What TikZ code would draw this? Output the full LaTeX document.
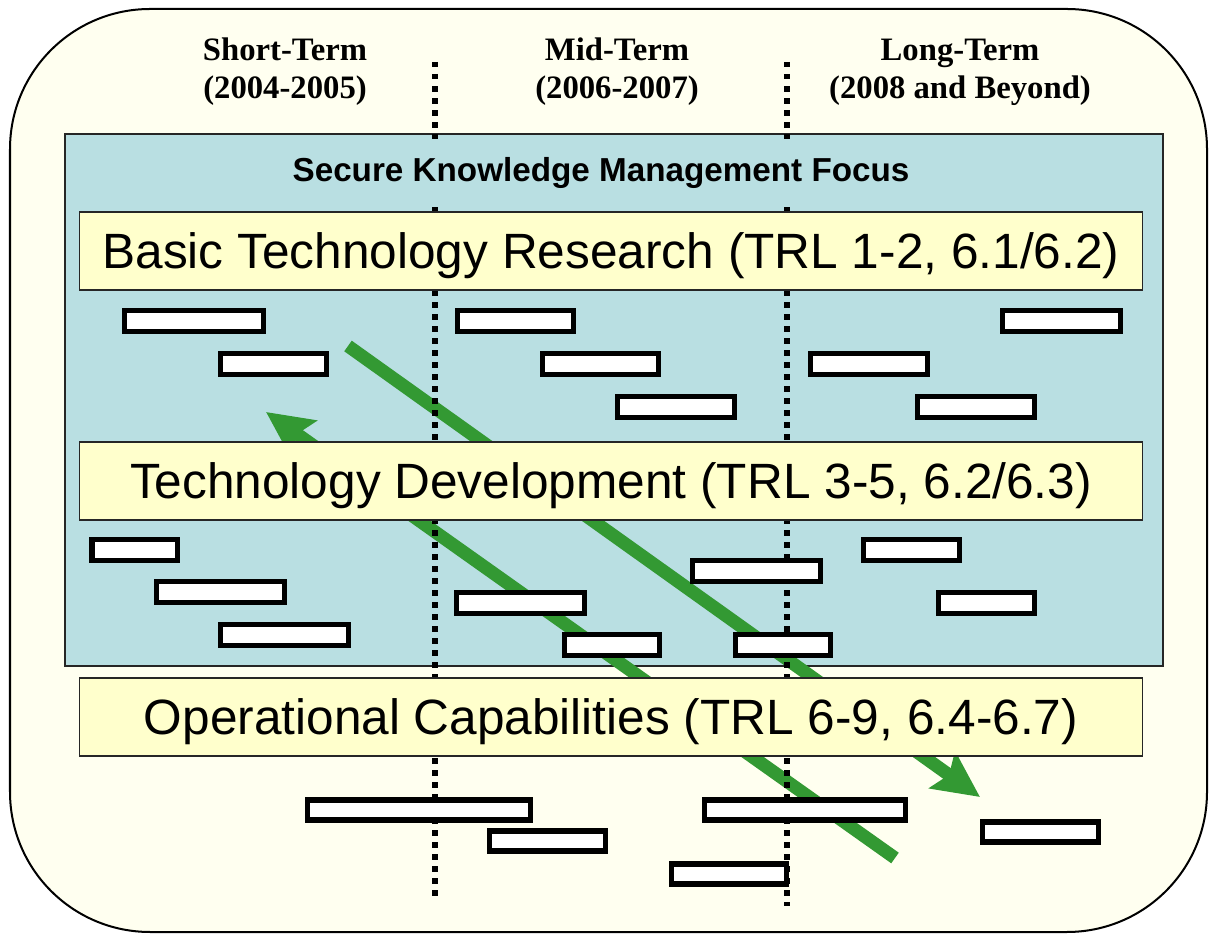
\documentclass[tikz,border=0pt]{standalone}
\usepackage{fontspec}
\setmainfont{Liberation Serif}
\setsansfont{Liberation Sans}
\usetikzlibrary{arrows.meta, calc}
\definecolor{ivorybg}{RGB}{255,255,240}
\definecolor{focusblue}{RGB}{185,223,226}
\definecolor{phaseyellow}{RGB}{255,255,204}
\definecolor{trendgreen}{RGB}{51,153,51}

\begin{document}
\begin{tikzpicture}[x=0.01cm, y=-0.01cm,
        bar/.style={draw=black, fill=white, line width=0.05cm},
        phase/.style={draw=black!85, fill=phaseyellow, line width=0.015cm, minimum width=10.62cm, minimum height=0.78cm, inner sep=0pt, text depth=0pt, font=\sffamily\fontsize{14.1}{16}\selectfont},
        term/.style={align=center, font=\bfseries\fontsize{9.3}{10.8}\selectfont},
        divider/.style={line width=0.055cm, dash pattern=on 0.055cm off 0.065cm},
        trend/.style={trendgreen, line width=0.13cm, -{Stealth[length=0.46cm, width=0.44cm, inset=0.08cm]}}]
        \useasboundingbox (0,0) rectangle (1209,934);
        
        \draw[line width=0.02cm, fill=ivorybg, rounded corners=1.4cm] (10,9) rectangle (1207,932);
        \draw[line width=0.02cm, draw=black!85, fill=focusblue] (65,134) rectangle (1163,666);
        
        \node[term] (short) at (285,72) {Short-Term\\(2004-2005)};
        \node[term] (mid) at (617,72) {Mid-Term\\(2006-2007)};
        \node[term] (long) at (960,72) {Long-Term\\(2008 and Beyond)};
        
        \coordinate (Fwd1) at (348,346);
        \coordinate (Fwd2) at (980,797);
        \coordinate (Back1) at (895,858);
        \coordinate (Back2) at (266,412);
        \draw[trend] (Fwd1) -- (Fwd2);
        \draw[trend] (Back1) -- (Back2);
        
        \coordinate (D1) at (435,62);
        \coordinate (D2) at (435,900);
        \coordinate (D3) at (787,62);
        \coordinate (D4) at (787,906);
        \draw[divider] (D1) -- (D2);
        \draw[divider] (D3) -- (D4);
        
        \node[fill=focusblue, minimum height=0.67cm, font=\sffamily\bfseries\fontsize{9.45}{11}\selectfont] (focus) at (601,173) {Secure Knowledge Management Focus};
        
        \node[phase] (basic) at (611,251) {Basic Technology Research (TRL 1-2, 6.1/6.2)};
        \node[phase] (techdev) at (611,481) {Technology Development (TRL 3-5, 6.2/6.3)};
        \node[phase] (opcap) at (611,717) {Operational Capabilities (TRL 6-9, 6.4-6.7)};
        
        \draw[bar] (124,311) rectangle (263,332);
        \draw[bar] (220,354) rectangle (326,375);
        \draw[bar] (457,311) rectangle (573,332);
        \draw[bar] (542,354) rectangle (658,375);
        \draw[bar] (617,397) rectangle (734,418);
        \draw[bar] (1002,311) rectangle (1120,332);
        \draw[bar] (810,354) rectangle (927,375);
        \draw[bar] (917,397) rectangle (1034,418);
        
        \draw[bar] (92,540) rectangle (177,561);
        \draw[bar] (156,582) rectangle (284,603);
        \draw[bar] (220,625) rectangle (348,646);
        \draw[bar] (456,593) rectangle (584,614);
        \draw[bar] (564,635) rectangle (659,656);
        \draw[bar] (692,561) rectangle (820,582);
        \draw[bar] (735,635) rectangle (830,656);
        \draw[bar] (863,540) rectangle (959,561);
        \draw[bar] (938,593) rectangle (1034,614);
        
        \draw[bar] (307,800) rectangle (530,820);
        \draw[bar] (489,831) rectangle (605,851);
        \draw[bar] (704,800) rectangle (905,820);
        \draw[bar] (671,864) rectangle (786,884);
        \draw[bar] (982,822) rectangle (1098,842);
    \end{tikzpicture}
\end{document}
